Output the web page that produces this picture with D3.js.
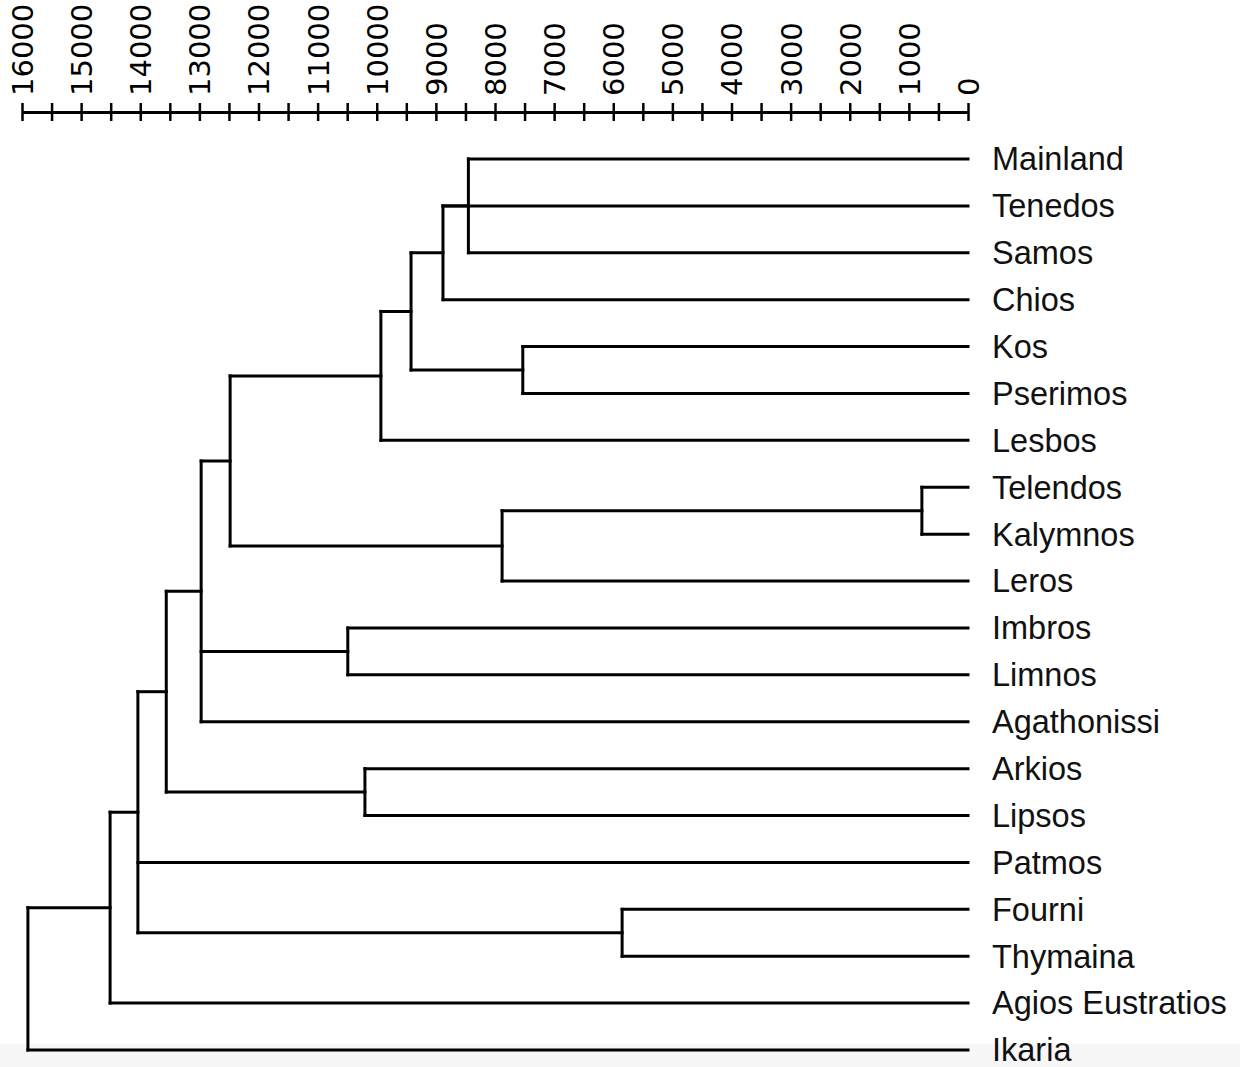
<!DOCTYPE html>
<html lang="en">
<head>
  <meta charset="utf-8">
  <script src="https://d3js.org/d3.v7.min.js"></script>
  <style>
    body { margin: 0; background: #fff; }
  </style>
</head>
<body>
  <script>
    var width = 1240,
      height = 1067;

    // leaves, top to bottom
    var leaves = ["Mainland", "Tenedos", "Samos", "Chios", "Kos", "Pserimos", "Lesbos",
      "Telendos", "Kalymnos", "Leros", "Imbros", "Limnos", "Agathonissi", "Arkios",
      "Lipsos", "Patmos", "Fourni", "Thymaina", "Agios Eustratios", "Ikaria"];

    // merges (cluster id, members, height)
    var mergeIds = ["A", "B", "D", "C", "E", "F", "G", "H", "I", "J", "K", "L", "M", "N", "O", "P"];
    var mergeChildren = [
      ["Mainland", "Samos"],
      ["A", "Tenedos", "Chios"],
      ["Kos", "Pserimos"],
      ["B", "D"],
      ["C", "Lesbos"],
      ["Telendos", "Kalymnos"],
      ["F", "Leros"],
      ["E", "G"],
      ["Imbros", "Limnos"],
      ["H", "I", "Agathonissi"],
      ["Arkios", "Lipsos"],
      ["J", "K"],
      ["Fourni", "Thymaina"],
      ["L", "Patmos", "M"],
      ["N", "Agios Eustratios"],
      ["O", "Ikaria"]
    ];
    var mergeHeights = [8450, 8880, 7530, 9420, 9930, 780, 7880, 12480, 10490, 12970,
      10200, 13560, 5850, 14040, 14510, 15900];

    var majorTicks = d3.range(0, 16001, 1000);
    var minorTicks = d3.range(500, 16000, 1000);

    var svg = d3.select('body')
      .append('svg')
      .attr('width', width)
      .attr('height', height);

    svg.append('rect').attr('width', width).attr('height', height).attr('fill', '#fff');
    svg.append('rect').attr('y', 1044).attr('width', width).attr('height', height - 1044).attr('fill', '#f7f7f7');

    var x = d3.scaleLinear().domain([16000, 0]).range([22, 968]);
    var y = d3.scalePoint().domain(leaves).range([159, 1050]);

    // axis on top, ticks crossing the line
    var axisY = 112;
    var gAxis = svg.append('g').attr('transform', 'translate(0,' + axisY + ')');
    gAxis.call(d3.axisTop(x).tickValues(majorTicks).tickSizeInner(0).tickSizeOuter(0)
      .tickFormat(d3.format('d')));
    var gMinor = svg.append('g').attr('transform', 'translate(0,' + axisY + ')');
    gMinor.call(d3.axisTop(x).tickValues(minorTicks).tickSizeInner(0).tickSizeOuter(0).tickFormat(''));
    gMinor.select('.domain').remove();

    svg.selectAll('.tick line')
      .attr('y1', -9).attr('y2', 9)
      .attr('stroke', '#000').attr('stroke-width', 2.5);
    gAxis.select('.domain').attr('stroke', '#000').attr('stroke-width', 3);
    gAxis.selectAll('.tick text')
      .attr('transform', 'rotate(-90)')
      .attr('x', 16).attr('y', 0).attr('dy', '0.36em')
      .style('text-anchor', 'start')
      .style('font-family', 'DejaVu Sans')
      .style('font-size', '29px')
      .attr('fill', '#000');

    // positions of leaves and merges
    var pos = {};
    leaves.forEach(function(d) {
      pos[d] = { x: x(0), y: y(d) };
    });
    var segs = [];
    mergeIds.forEach(function(id, i) {
      var kids = mergeChildren[i].map(function(k) { return pos[k]; });
      var ys = kids.map(function(k) { return k.y; });
      var y0 = d3.min(ys), y1 = d3.max(ys);
      var nx = x(mergeHeights[i]);
      segs.push([nx, y0, nx, y1]);
      kids.forEach(function(k) {
        segs.push([nx, k.y, k.x, k.y]);
      });
      pos[id] = { x: nx, y: (y0 + y1) / 2 };
    });

    svg.append('g')
      .selectAll('line')
      .data(segs)
      .join('line')
      .attr('x1', function(d) { return d[0]; })
      .attr('y1', function(d) { return d[1]; })
      .attr('x2', function(d) { return d[2]; })
      .attr('y2', function(d) { return d[3]; })
      .attr('stroke', '#000')
      .attr('stroke-width', 3)
      .attr('stroke-linecap', 'square');

    svg.append('g')
      .selectAll('text')
      .data(leaves)
      .join('text')
      .attr('x', x(0) + 24)
      .attr('y', function(d) { return y(d); })
      .attr('dy', '0.35em')
      .style('font-family', 'Liberation Sans, Arial, sans-serif')
      .style('font-size', '32.5px')
      .attr('fill', '#111')
      .text(function(d) { return d; });
  </script>
</body>
</html>
